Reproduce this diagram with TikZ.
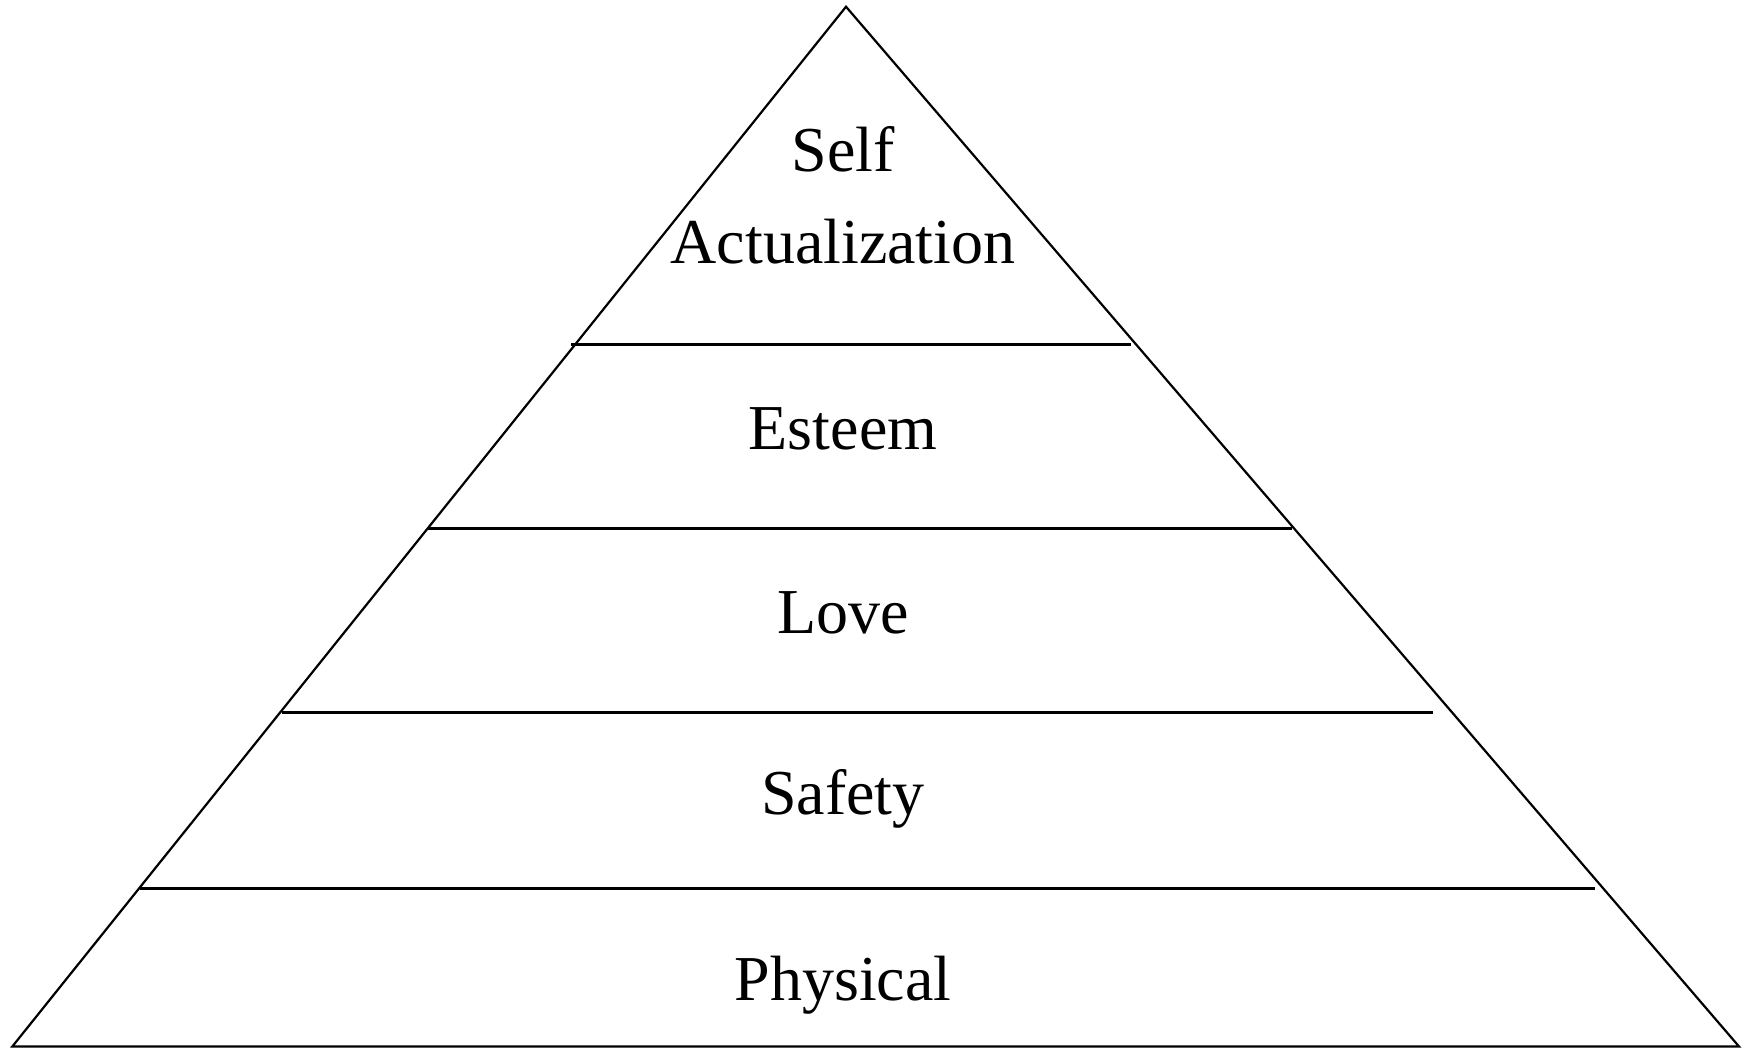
\documentclass[tikz,border=0pt]{standalone}
\usepackage{fontspec}
\setmainfont{Liberation Serif}
\begin{document}
\begin{tikzpicture}[x=0.5pt,y=-0.5pt,
  edge/.style={line width=1.1pt,line join=miter},
  tier/.style={line width=1.6pt},
  lbl/.style={anchor=base,inner sep=0pt,font=\fontsize{32}{46}\selectfont}]
\useasboundingbox (0,0) rectangle (1749,1048);
\coordinate (apex) at (846,6.7);
\coordinate (bl) at (12.3,1046.5);
\coordinate (br) at (1739,1046.5);
\draw[edge] (apex) -- (bl) -- (br) -- cycle;
\coordinate (l1a) at (571,344.3);  \coordinate (l1b) at (1131,344.3);
\coordinate (l2a) at (428.3,528.3); \coordinate (l2b) at (1292.3,528.3);
\coordinate (l3a) at (282.3,712.7); \coordinate (l3b) at (1433,712.7);
\coordinate (l4a) at (140,888.3);  \coordinate (l4b) at (1595,888.3);
\draw[tier] (l1a) -- (l1b);
\draw[tier] (l2a) -- (l2b);
\draw[tier] (l3a) -- (l3b);
\draw[tier] (l4a) -- (l4b);
\node[lbl] (self) at (843,171.7) {Self};
\node[lbl] (act) at (843,263.3) {Actualization};
\node[lbl] (esteem) at (843,449.6) {Esteem};
\node[lbl] (love) at (843,633.6) {Love};
\node[lbl] (safety) at (843,814) {Safety};
\node[lbl] (phys) at (843,1000.3) {Physical};
\end{tikzpicture}
\end{document}
